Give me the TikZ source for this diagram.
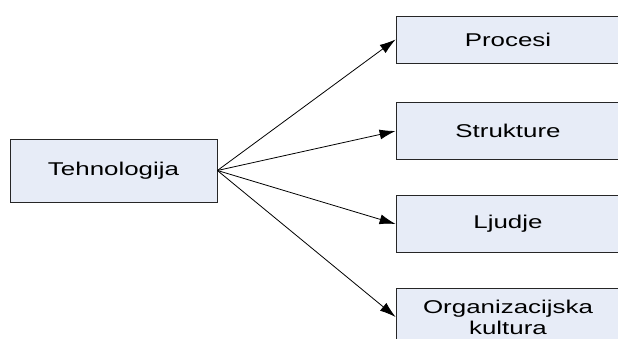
\documentclass[tikz,border=0pt]{standalone}
\usepackage{fontspec}
\setmainfont{Liberation Sans}[FakeStretch=1.4]
\usepackage{tikz}
\usetikzlibrary{positioning, arrows.meta}

\definecolor{boxfill}{RGB}{231,236,247}

\begin{document}
\begin{tikzpicture}[x=1pt,y=1pt,on grid,
    box/.style={draw=black!85, line width=0.8pt, fill=boxfill, align=center,
        font=\fontsize{18.5}{21}\selectfont},
    target/.style={box, minimum width=224pt, minimum height=57pt},
    link/.style={-{Latex[length=16pt,width=10pt]}, line width=0.8pt}]
    \clip (0,0) rectangle (618,-339);
            \node[box, minimum width=207pt, minimum height=63pt] (tehnologija) at (113.5,-170.5) {Tehnologija};
            \node[target, minimum height=47pt] (procesi) at (508,-39.5) {Procesi};
            \node[target] (strukture) [below=91.5pt of procesi] {Strukture};
            \node[target] (ljudje) [below=93pt of strukture] {Ljudje};
            \node[target] (kultura) [below=93pt of ljudje] {Organizacijska\\kultura};
                \path[link]
                (tehnologija.east) edge (procesi.west)
                    edge (strukture.west)
                    edge (ljudje.west)
                    edge (kultura.west);
        \end{tikzpicture}
\end{document}
